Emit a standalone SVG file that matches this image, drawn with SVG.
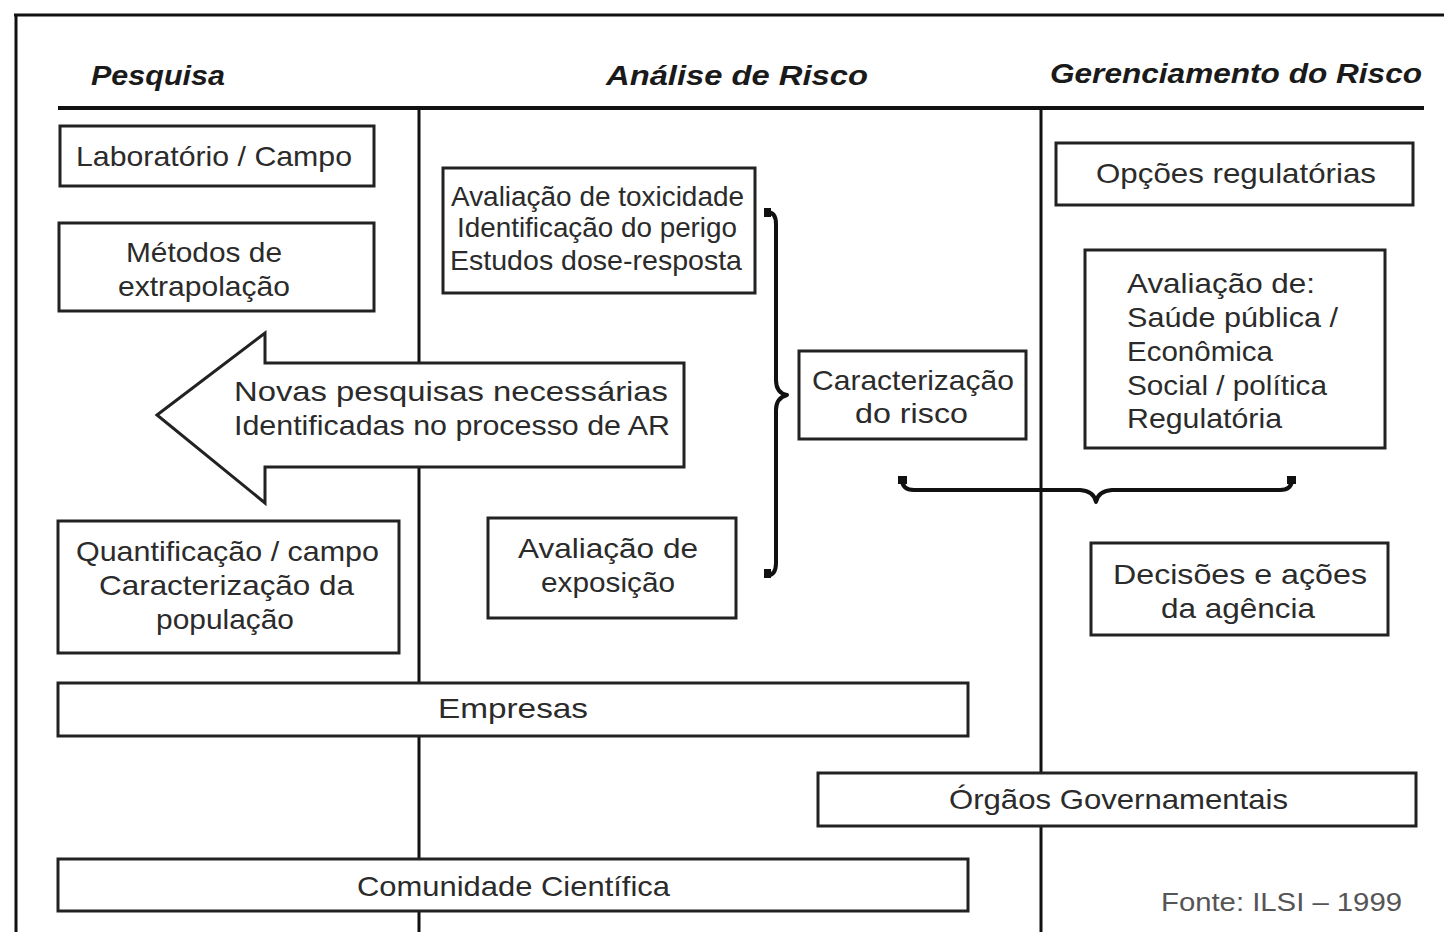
<svg xmlns="http://www.w3.org/2000/svg" width="1444" height="932" viewBox="0 0 1444 932">
<style>
.frame{stroke:#111;stroke-width:3;fill:none}
.hdr{stroke:#111;stroke-width:4;fill:none}
.box{fill:#fff;stroke:#222;stroke-width:3}
.t{font-family:"Liberation Sans",Arial,sans-serif;font-size:28px;fill:#2b2b2b}
.h{font-family:"Liberation Sans",Arial,sans-serif;font-size:27px;font-weight:bold;font-style:italic;fill:#1a1a1a}
.src{font-family:"Liberation Sans",Arial,sans-serif;font-size:26px;fill:#555}
.brace{fill:none;stroke:#111;stroke-width:4;stroke-linecap:round;stroke-linejoin:round}
.tip{fill:#111}
</style>
<rect x="0" y="0" width="1444" height="932" fill="#fff"/>
<g id="frame">
<path class="frame" d="M14,15 H1444 M16,15 V932"/>
<path class="hdr" d="M58,108 H1424"/>
<path class="frame" d="M419,108 V932 M1041,108 V932"/>
</g>
<g id="headers">
<text class="h" x="91" y="85" textLength="134" lengthAdjust="spacingAndGlyphs">Pesquisa</text>
<text class="h" x="606" y="85" textLength="262" lengthAdjust="spacingAndGlyphs">Análise  de  Risco</text>
<text class="h" x="1050" y="83" textLength="372" lengthAdjust="spacingAndGlyphs">Gerenciamento  do  Risco</text>
</g>
<g id="connectors">
<path class="brace" d="M767,212 Q776,212 776,224 L776,380 Q776,393 787,395 Q776,398 776,410 L776,563 Q776,575 767,576"/>
<rect class="tip" x="764" y="208" width="7" height="9"/>
<rect class="tip" x="764" y="569" width="7" height="9"/>
<path class="brace" d="M902,479 Q902,490 914,490 L1080,490 Q1094,491 1096,502 Q1098,491 1112,490 L1280,490 Q1292,490 1292,479" stroke-width="5"/>
<rect class="tip" x="898" y="476" width="9" height="8"/>
<rect class="tip" x="1287" y="476" width="9" height="8"/>
</g>
<g id="n-arrow">
<polygon class="box" points="157,415 265,333 265,363 684,363 684,467 265,467 265,503"/>
<text class="t" x="234" y="401" textLength="434" lengthAdjust="spacingAndGlyphs">Novas  pesquisas  necessárias</text>
<text class="t" x="234" y="435" textLength="436" lengthAdjust="spacingAndGlyphs">Identificadas no processo de AR</text>
</g>
<g id="n-laboratorio">
<rect class="box" x="60" y="126" width="314" height="60"/>
<text class="t" x="76" y="166" textLength="276" lengthAdjust="spacingAndGlyphs">Laboratório / Campo</text>
</g>
<g id="n-metodos">
<rect class="box" x="59" y="223" width="315" height="88"/>
<text class="t" x="126" y="262" textLength="156" lengthAdjust="spacingAndGlyphs">Métodos de</text>
<text class="t" x="118" y="296" textLength="172" lengthAdjust="spacingAndGlyphs">extrapolação</text>
</g>
<g id="n-toxicidade">
<rect class="box" x="443" y="168" width="312" height="125"/>
<text class="t" x="451" y="206" textLength="293" lengthAdjust="spacingAndGlyphs">Avaliação de toxicidade</text>
<text class="t" x="457" y="237" textLength="280" lengthAdjust="spacingAndGlyphs">Identificação do perigo</text>
<text class="t" x="450" y="270" textLength="292" lengthAdjust="spacingAndGlyphs">Estudos  dose-resposta</text>
</g>
<g id="n-caracterizacao">
<rect class="box" x="799" y="351" width="227" height="88"/>
<text class="t" x="812" y="390" textLength="202" lengthAdjust="spacingAndGlyphs">Caracterização</text>
<text class="t" x="855" y="423" textLength="113" lengthAdjust="spacingAndGlyphs">do  risco</text>
</g>
<g id="n-opcoes">
<rect class="box" x="1056" y="143" width="357" height="62"/>
<text class="t" x="1096" y="183" textLength="280" lengthAdjust="spacingAndGlyphs">Opções  regulatórias</text>
</g>
<g id="n-avaliacao-de">
<rect class="box" x="1085" y="250" width="300" height="198"/>
<text class="t" x="1127" y="293" textLength="188" lengthAdjust="spacingAndGlyphs">Avaliação  de:</text>
<text class="t" x="1127" y="327" textLength="211" lengthAdjust="spacingAndGlyphs">Saúde  pública /</text>
<text class="t" x="1127" y="361" textLength="146" lengthAdjust="spacingAndGlyphs">Econômica</text>
<text class="t" x="1127" y="395" textLength="200" lengthAdjust="spacingAndGlyphs">Social / política</text>
<text class="t" x="1127" y="428" textLength="155" lengthAdjust="spacingAndGlyphs">Regulatória</text>
</g>
<g id="n-decisoes">
<rect class="box" x="1091" y="543" width="297" height="92"/>
<text class="t" x="1113" y="584" textLength="254" lengthAdjust="spacingAndGlyphs">Decisões  e  ações</text>
<text class="t" x="1161" y="618" textLength="154" lengthAdjust="spacingAndGlyphs">da  agência</text>
</g>
<g id="n-quantificacao">
<rect class="box" x="58" y="521" width="341" height="132"/>
<text class="t" x="76" y="561" textLength="303" lengthAdjust="spacingAndGlyphs">Quantificação / campo</text>
<text class="t" x="99" y="595" textLength="255" lengthAdjust="spacingAndGlyphs">Caracterização  da</text>
<text class="t" x="156" y="629" textLength="138" lengthAdjust="spacingAndGlyphs">população</text>
</g>
<g id="n-exposicao">
<rect class="box" x="488" y="518" width="248" height="100"/>
<text class="t" x="518" y="558" textLength="180" lengthAdjust="spacingAndGlyphs">Avaliação  de</text>
<text class="t" x="541" y="592" textLength="134" lengthAdjust="spacingAndGlyphs">exposição</text>
</g>
<g id="n-empresas">
<rect class="box" x="58" y="683" width="910" height="53"/>
<text class="t" x="438" y="718" textLength="150" lengthAdjust="spacingAndGlyphs">Empresas</text>
</g>
<g id="n-orgaos">
<rect class="box" x="818" y="773" width="598" height="53"/>
<text class="t" x="949" y="809" textLength="339" lengthAdjust="spacingAndGlyphs">Órgãos  Governamentais</text>
</g>
<g id="n-comunidade">
<rect class="box" x="58" y="859" width="910" height="52"/>
<text class="t" x="357" y="896" textLength="313" lengthAdjust="spacingAndGlyphs">Comunidade  Científica</text>
</g>
<g id="fonte">
<text class="src" x="1161" y="911" textLength="241" lengthAdjust="spacingAndGlyphs">Fonte: ILSI – 1999</text>
</g>
</svg>
